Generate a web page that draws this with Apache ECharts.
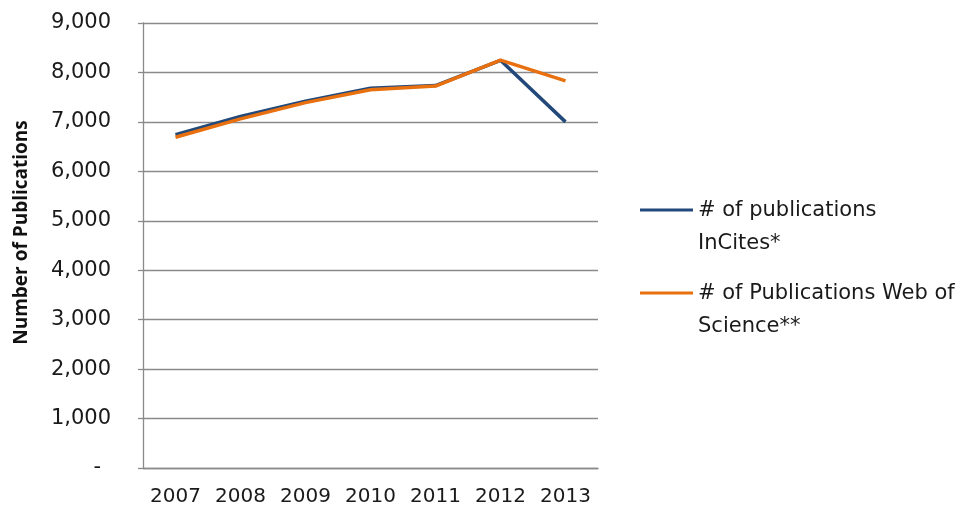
<!DOCTYPE html>
<html>
<head>
<meta charset="utf-8">
<script src="https://cdn.jsdelivr.net/npm/echarts@6/dist/echarts.min.js"></script>
<style>
  html, body { margin: 0; padding: 0; background: #fff; }
  #chart { width: 965px; height: 512px; }
</style>
</head>
<body>
<div id="chart"></div>
<script>
// 年份
const years = ['2007', '2008', '2009', '2010', '2011', '2012', '2013'];
// InCites
const incites = [6740, 7110, 7420, 7680, 7735, 8245, 7000];
// Web of Science
const wos = [6690, 7060, 7390, 7650, 7725, 8250, 7830];
const yTicks = { min: 0, max: 9000, interval: 1000 };

const font = 'DejaVu Sans';
const gridColor = '#8a8a8a';
const textColor = '#1a1a1a';

let myChart = echarts.init(document.getElementById('chart'));
let option = {
  animation: false,
  textStyle: { fontFamily: font },
  grid: {
    left: 143,
    right: 367,
    top: 23,
    bottom: 44
  },
  legend: {
    orient: 'vertical',
    left: 640,
    top: 194,
    padding: 0,
    itemWidth: 53,
    itemHeight: 37,
    itemGap: 17,
    itemTextGap: 5,
    // 线条放在图标顶部，对齐第一行文字
    icon: 'path://M0,0H53V3H0Z M0,36.99L0.01,37L0,37Z',
    textStyle: {
      fontFamily: font,
      fontSize: 21,
      lineHeight: 33,
      color: textColor
    },
    data: ['# of publications\nInCites*', '# of Publications Web of\nScience**']
  },
  xAxis: {
    type: 'category',
    data: years,
    axisLine: { lineStyle: { color: gridColor, width: 1.3 } },
    axisTick: { show: false },
    axisLabel: {
      fontFamily: font,
      fontSize: 20,
      color: textColor,
      margin: 19,
      interval: 0
    }
  },
  yAxis: {
    type: 'value',
    min: yTicks.min,
    max: yTicks.max,
    interval: yTicks.interval,
    name: 'Number of Publications',
    nameLocation: 'middle',
    nameGap: 112,
    nameTextStyle: {
      fontFamily: 'Open Sans',
      fontSize: 19,
      fontWeight: 'bold',
      color: '#111',
      padding: [0, 0, 0, 26]
    },
    axisLine: { show: true, lineStyle: { color: gridColor, width: 1.3 } },
    axisTick: { show: true, length: 5, lineStyle: { color: gridColor, width: 1.3 } },
    splitLine: { lineStyle: { color: gridColor, width: 1.3 } },
    axisLabel: {
      fontFamily: font,
      fontSize: 21,
      color: textColor,
      margin: 32,
      formatter: function (v) {
        if (v === 0) return '{d|-}';
        return v.toLocaleString('en-US');
      },
      rich: {
        d: { fontFamily: font, fontSize: 21, color: textColor, padding: [0, 10, 0, 0] }
      }
    }
  },
  series: [
    {
      name: '# of publications\nInCites*',
      type: 'line',
      data: incites,
      symbol: 'none',
      color: '#22497a',
      lineStyle: { width: 3.5, color: '#22497a' }
    },
    {
      name: '# of Publications Web of\nScience**',
      type: 'line',
      data: wos,
      symbol: 'none',
      color: '#e8700e',
      lineStyle: { width: 3.5, color: '#e8700e' }
    }
  ]
};
myChart.setOption(option);
</script>
</body>
</html>
